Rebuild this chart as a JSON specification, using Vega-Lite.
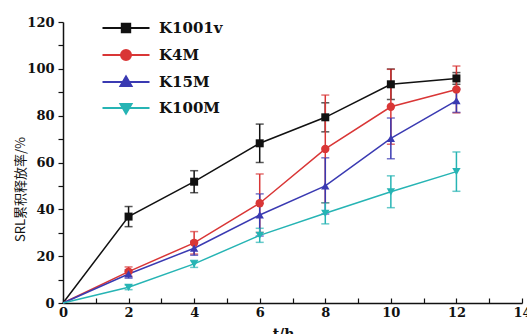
{
  "$schema": "https://vega.github.io/schema/vega-lite/v6.json",
  "width": 459,
  "height": 281,
  "autosize": {"type": "none"},
  "padding": {"left": 63, "top": 22, "right": 5, "bottom": 31},
  "background": "white",
  "config": {"view": {"stroke": null}},
  "data": {"values": [
    {"series": "K1001v", "t": 0, "value": 0, "err": 0},
    {"series": "K1001v", "t": 2, "value": 36.9, "err": 4.3},
    {"series": "K1001v", "t": 4, "value": 51.8, "err": 4.7},
    {"series": "K1001v", "t": 6, "value": 68.2, "err": 8.2},
    {"series": "K1001v", "t": 8, "value": 79.3, "err": 6.2},
    {"series": "K1001v", "t": 10, "value": 93.4, "err": 6.5},
    {"series": "K1001v", "t": 12, "value": 95.9, "err": 2.5},
    {"series": "K4M", "t": 0, "value": 0, "err": 0},
    {"series": "K4M", "t": 2, "value": 13.4, "err": 2},
    {"series": "K4M", "t": 4, "value": 25.7, "err": 4.8},
    {"series": "K4M", "t": 6, "value": 42.6, "err": 12.5},
    {"series": "K4M", "t": 8, "value": 65.8, "err": 23},
    {"series": "K4M", "t": 10, "value": 83.8, "err": 16},
    {"series": "K4M", "t": 12, "value": 91.2, "err": 10},
    {"series": "K15M", "t": 0, "value": 0, "err": 0},
    {"series": "K15M", "t": 2, "value": 12.4, "err": 1.8},
    {"series": "K15M", "t": 4, "value": 23.4, "err": 3},
    {"series": "K15M", "t": 6, "value": 37.6, "err": 9},
    {"series": "K15M", "t": 8, "value": 50, "err": 12},
    {"series": "K15M", "t": 10, "value": 70.3, "err": 8.7},
    {"series": "K15M", "t": 12, "value": 86.4, "err": 5},
    {"series": "K100M", "t": 0, "value": 0, "err": 0},
    {"series": "K100M", "t": 2, "value": 6.7, "err": 1},
    {"series": "K100M", "t": 4, "value": 16.7, "err": 1.5},
    {"series": "K100M", "t": 6, "value": 28.9, "err": 3},
    {"series": "K100M", "t": 8, "value": 38.3, "err": 4.5},
    {"series": "K100M", "t": 10, "value": 47.5, "err": 6.8},
    {"series": "K100M", "t": 12, "value": 56.1, "err": 8.4}
  ]},
  "encoding": {
    "x": {
      "field": "t", "type": "quantitative",
      "scale": {"domain": [0, 14], "nice": false, "zero": false},
      "axis": {
        "values": [0,1,2,3,4,5,6,7,8,9,10,11,12,13,14],
        "labelExpr": "datum.value % 2 === 0 ? datum.label : ''",
        "grid": false, "domainColor": "#111", "domainWidth": 1.5,
        "tickColor": "#111", "tickWidth": 1.2, "tickSize": -5,
        "labelPadding": 8, "labelFont": "DejaVu Serif", "labelFontWeight": "bold",
        "labelFontSize": 13, "labelColor": "#111", "labelFlush": false,
        "title": "t/h", "titleFont": "DejaVu Serif", "titleFontWeight": "bold",
        "titleFontSize": 14, "titleColor": "#111",
        "titleX": 220, "titleY": 24, "titleBaseline": "top", "titleAlign": "center"
      }
    },
    "y": {
      "field": "value", "type": "quantitative",
      "scale": {"domain": [0, 120], "nice": false},
      "axis": {
        "values": [0,10,20,30,40,50,60,70,80,90,100,110,120],
        "labelExpr": "datum.value % 20 === 0 ? datum.label : ''",
        "grid": false, "domainColor": "#111", "domainWidth": 1.5,
        "tickColor": "#111", "tickWidth": 1.2, "tickSize": 5,
        "labelPadding": 4, "labelFont": "DejaVu Serif", "labelFontWeight": "bold",
        "labelFontSize": 13, "labelColor": "#111", "labelFlush": false,
        "title": "SRL累积释放率/%", "titleFont": "Noto Sans CJK SC", "titleFontWeight": "normal",
        "titleFontSize": 13, "titleColor": "#111", "titleAngle": -90,
        "titleX": -43, "titleY": 167, "titleAlign": "center", "titleBaseline": "middle"
      }
    },
    "color": {
      "field": "series", "type": "nominal",
      "scale": {"domain": ["K1001v", "K4M", "K15M", "K100M"], "range": ["#111111", "#d93636", "#3a3ab2", "#26b4b4"]},
      "legend": {
        "orient": "none", "legendX": 52, "legendY": -5,
        "title": null, "symbolSize": 400, "rowPadding": 7,
        "labelOffset": 22, "labelFont": "DejaVu Serif", "labelFontWeight": "bold",
        "labelFontSize": 15, "labelColor": "#111",
        "encode": {
          "symbols": {
            "update": {
              "shape": {"signal": "datum.value === 'K1001v' ? 'M-2.35,0H2.35M-0.42,-0.42H0.42V0.42H-0.42Z' : datum.value === 'K4M' ? 'M-2.35,0H2.35M-0.5,0A0.5,0.5 0 1,0 0.5,0A0.5,0.5 0 1,0 -0.5,0Z' : datum.value === 'K15M' ? 'M-2.35,0H2.35M0,-0.55L0.55,0.4H-0.55Z' : 'M-2.35,0H2.35M0,0.55L0.55,-0.4H-0.55Z'"},
              "stroke": {"signal": "scale('color', datum.value)"},
              "fill": {"signal": "scale('color', datum.value)"},
              "strokeWidth": {"value": 2},
              "opacity": {"value": 1}
            }
          }
        }
      }
    }
  },
  "layer": [
    {
      "transform": [{"filter": "datum.t > 0"}],
      "mark": {"type": "errorbar", "ticks": {"size": 8, "thickness": 1.5}, "rule": {"strokeWidth": 1.5}},
      "encoding": {
        "yError": {"field": "err"}
      }
    },
    {
      "mark": {"type": "line", "strokeWidth": 1.5},
      "encoding": {
        "detail": {"field": "series"}
      }
    },
    {
      "transform": [{"filter": "datum.t > 0 && datum.series === 'K1001v'"}],
      "mark": {"type": "point", "filled": true, "opacity": 1, "size": 64, "shape": "square"}
    },
    {
      "transform": [{"filter": "datum.t > 0 && datum.series === 'K4M'"}],
      "mark": {"type": "point", "filled": true, "opacity": 1, "size": 70, "shape": "circle"}
    },
    {
      "transform": [{"filter": "datum.t > 0 && datum.series === 'K15M'"}],
      "mark": {"type": "point", "filled": true, "opacity": 1, "size": 70, "shape": "triangle-up"}
    },
    {
      "transform": [{"filter": "datum.t > 0 && datum.series === 'K100M'"}],
      "mark": {"type": "point", "filled": true, "opacity": 1, "size": 70, "shape": "triangle-down"}
    }
  ]
}
